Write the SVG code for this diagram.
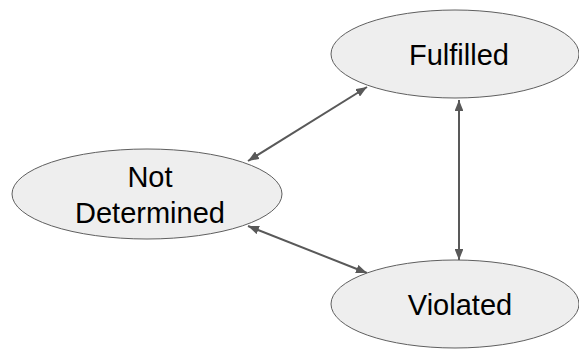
<svg xmlns="http://www.w3.org/2000/svg" width="579" height="350" viewBox="0 0 579 350">
  <style>
    .node ellipse { fill: #eeeeee; stroke: #5f5f5f; stroke-width: 1; }
    .node text { font-family: "Liberation Sans", Arial, sans-serif; font-size: 29px; fill: #000000; text-anchor: middle; }
    .edge { stroke: #595959; stroke-width: 2; fill: none; marker-start: url(#arrow); marker-end: url(#arrow); }
  </style>
  <defs>
    <marker id="arrow" viewBox="0 0 10 8" refX="10" refY="4" markerWidth="5.5" markerHeight="4.4" orient="auto-start-reverse" markerUnits="strokeWidth">
      <path d="M0,0 L10,4 L0,8 Z" fill="#595959"/>
    </marker>
  </defs>

  <rect width="579" height="350" fill="#ffffff"/>

  <!-- connectors -->
  <g id="edges">
    <line class="edge" x1="248" y1="161" x2="367" y2="87"/>
    <line class="edge" x1="459" y1="100" x2="459" y2="260"/>
    <line class="edge" x1="248" y1="226" x2="367" y2="273"/>
  </g>

  <!-- states -->
  <g id="fulfilled" class="node">
    <ellipse cx="455" cy="54" rx="124" ry="44"/>
    <text x="459" y="65">Fulfilled</text>
  </g>
  <g id="not-determined" class="node">
    <ellipse cx="147" cy="194" rx="135" ry="45"/>
    <text x="150" y="187">Not</text>
    <text x="150" y="223">Determined</text>
  </g>
  <g id="violated" class="node">
    <ellipse cx="455" cy="304" rx="124" ry="44"/>
    <text x="460" y="315">Violated</text>
  </g>
</svg>
